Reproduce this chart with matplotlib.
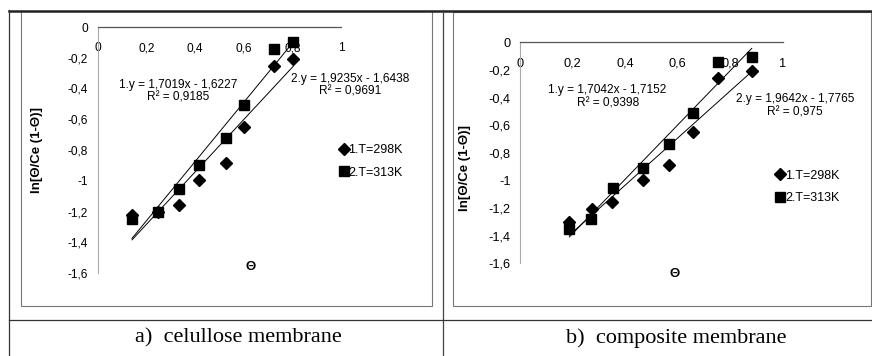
import numpy as np
import matplotlib
matplotlib.use("Agg")
from matplotlib import pyplot as plt
from matplotlib.lines import Line2D
from matplotlib.patches import Rectangle

plt.rcParams['font.family'] = ['Liberation Sans', 'DejaVu Sans']

# data
theta_a_298 = [0.14, 0.248, 0.333, 0.417, 0.527, 0.602, 0.726, 0.804]
lnv_a_298 = [-1.22, -1.20, -1.158, -0.995, -0.887, -0.648, -0.252, -0.206]
theta_a_313 = [0.14, 0.248, 0.333, 0.417, 0.527, 0.602, 0.726, 0.801]
lnv_a_313 = [-1.249, -1.20, -1.054, -0.898, -0.724, -0.505, -0.145, -0.095]

theta_b_298 = [0.187, 0.272, 0.349, 0.469, 0.565, 0.659, 0.752, 0.882]
lnv_b_298 = [-1.30, -1.207, -1.158, -0.997, -0.888, -0.652, -0.256, -0.208]
theta_b_313 = [0.187, 0.269, 0.352, 0.469, 0.565, 0.658, 0.752, 0.882]
lnv_b_313 = [-1.354, -1.281, -1.057, -0.907, -0.736, -0.512, -0.145, -0.109]

# trendline coefficients as printed on the chart (slope, intercept)
fit_a = [(1.7019, -1.6227), (1.9235, -1.6438)]
fit_b = [(1.7042, -1.7152), (1.9642, -1.7765)]
r2_a = ["0,9185", "0,9691"]
r2_b = ["0,9398", "0,975"]

series_labels = ["1.T=298K", "2.T=313K"]
xticks = [0, 0.2, 0.4, 0.6, 0.8, 1.0]
xtick_labels = ["0", "0,2", "0,4", "0,6", "0,8", "1"]
yticks = [-1.6, -1.4, -1.2, -1.0, -0.8, -0.6, -0.4, -0.2, 0]
ytick_labels = ["-1,6", "-1,4", "-1,2", "-1", "-0,8", "-0,6", "-0,4", "-0,2", "0"]
captions = ["a)  celullose membrane", "b)  composite membrane"]

W, H = 872, 356
fig = plt.figure(figsize=(W / 100, H / 100), dpi=100)


def px(x0, y0, x1, y1):
    # pixel box (top-left origin) -> figure fraction rect
    return [x0 / W, 1 - y1 / H, (x1 - x0) / W, (y1 - y0) / H]


def fline(xs, ys, **kw):
    fig.add_artist(Line2D([x / W for x in xs], [1 - y / H for y in ys],
                          transform=fig.transFigure, **kw))


def fmt(v):
    return ("%.4f" % v).replace(".", ",")


def panel(box, d298, d313, fits, r2s, fs, eq_pos, leg_pos, ylab_pos, xlab_pos):
    ax = fig.add_axes(px(*box))
    ax.set_xlim(0, 1)
    ax.set_ylim(-1.6, 0)
    ax.patch.set_alpha(0)
    for s in ['top', 'right']:
        ax.spines[s].set_visible(False)
    ax.spines['bottom'].set_position(('data', 0))
    ax.spines['bottom'].set_color('#555555')
    ax.spines['left'].set_color('#aaaaaa')
    ax.spines['bottom'].set_linewidth(0.9)
    ax.spines['left'].set_linewidth(0.8)
    ax.set_xticks(xticks)
    ax.set_xticklabels(xtick_labels)
    ax.set_yticks(yticks)
    ax.set_yticklabels(ytick_labels)
    ax.tick_params(axis='x', length=0, pad=11, labelsize=fs)
    ax.tick_params(axis='y', length=0, pad=7, labelsize=fs)

    h1, = ax.plot(d298[0], d298[1], 'D', color='black', ms=5.8, ls='none')
    h2, = ax.plot(d313[0], d313[1], 's', color='black', ms=6.8, ls='none')
    for (m, b), xs in zip(fits, [d298[0], d313[0]]):
        xx = np.array([min(xs), max(xs)])
        ax.plot(xx, m * xx + b, color='black', lw=0.7)

    for i, ((m, b), r2) in enumerate(zip(fits, r2s)):
        ax.text(eq_pos[i][0], eq_pos[i][1],
                "%d.y = %sx - %s\nR² = %s" % (i + 1, fmt(m), fmt(-b), r2),
                ha='center', va='center', fontsize=8.6, linespacing=1.1,
                clip_on=False)

    ax.legend([h1, h2], series_labels, loc='center left', bbox_to_anchor=leg_pos,
              frameon=False, fontsize=9, handlelength=0.6, handletextpad=0.1,
              labelspacing=0.85, borderpad=0, borderaxespad=0)
    ax.set_ylabel("ln[Θ/Ce (1-Θ)]", fontsize=9.5, fontweight='bold')
    ax.yaxis.set_label_coords(*ylab_pos)
    ax.text(xlab_pos[0], xlab_pos[1], "Θ", transform=ax.transAxes,
            ha='center', va='center', fontsize=9.5, fontweight='bold')
    return ax


panel((98, 27, 341, 273), (theta_a_298, lnv_a_298), (theta_a_313, lnv_a_313),
      fit_a, r2_a, 8.6,
      eq_pos=[(0.329, -0.416), (1.037, -0.38)],
      leg_pos=(0.995, 0.453), ylab_pos=(-0.226, 0.5), xlab_pos=(0.63, 0.024))

panel((520.3, 42.3, 782.7, 263.3), (theta_b_298, lnv_b_298), (theta_b_313, lnv_b_313),
      fit_b, r2_b, 9.2,
      eq_pos=[(0.333, -0.395), (1.046, -0.458)],
      leg_pos=(0.975, 0.345), ylab_pos=(-0.188, 0.431), xlab_pos=(0.59, -0.048))

# chart frames
for box in [(21, 11, 432, 306), (453, 12, 871, 306)]:
    fig.add_artist(Rectangle((box[0] / W, 1 - box[3] / H), (box[2] - box[0]) / W,
                             (box[3] - box[1]) / H, transform=fig.transFigure,
                             fill=False, ec='#777777', lw=0.8))

# table lines
fline([9, 871], [10.5, 10.5], color='#222222', lw=1.8)
fline([9, 9], [10, 356], color='#333333', lw=0.9)
fline([443, 443], [10, 356], color='#444444', lw=0.9)
fline([9, 871], [320, 320], color='#333333', lw=0.9)

for x, t in zip([238, 676], captions):
    fig.text(x / W, 1 - 338 / H, t, ha='center', va='center', fontsize=16,
             family=['Liberation Serif', 'DejaVu Serif'])

fig.savefig("out.png", dpi=100)
